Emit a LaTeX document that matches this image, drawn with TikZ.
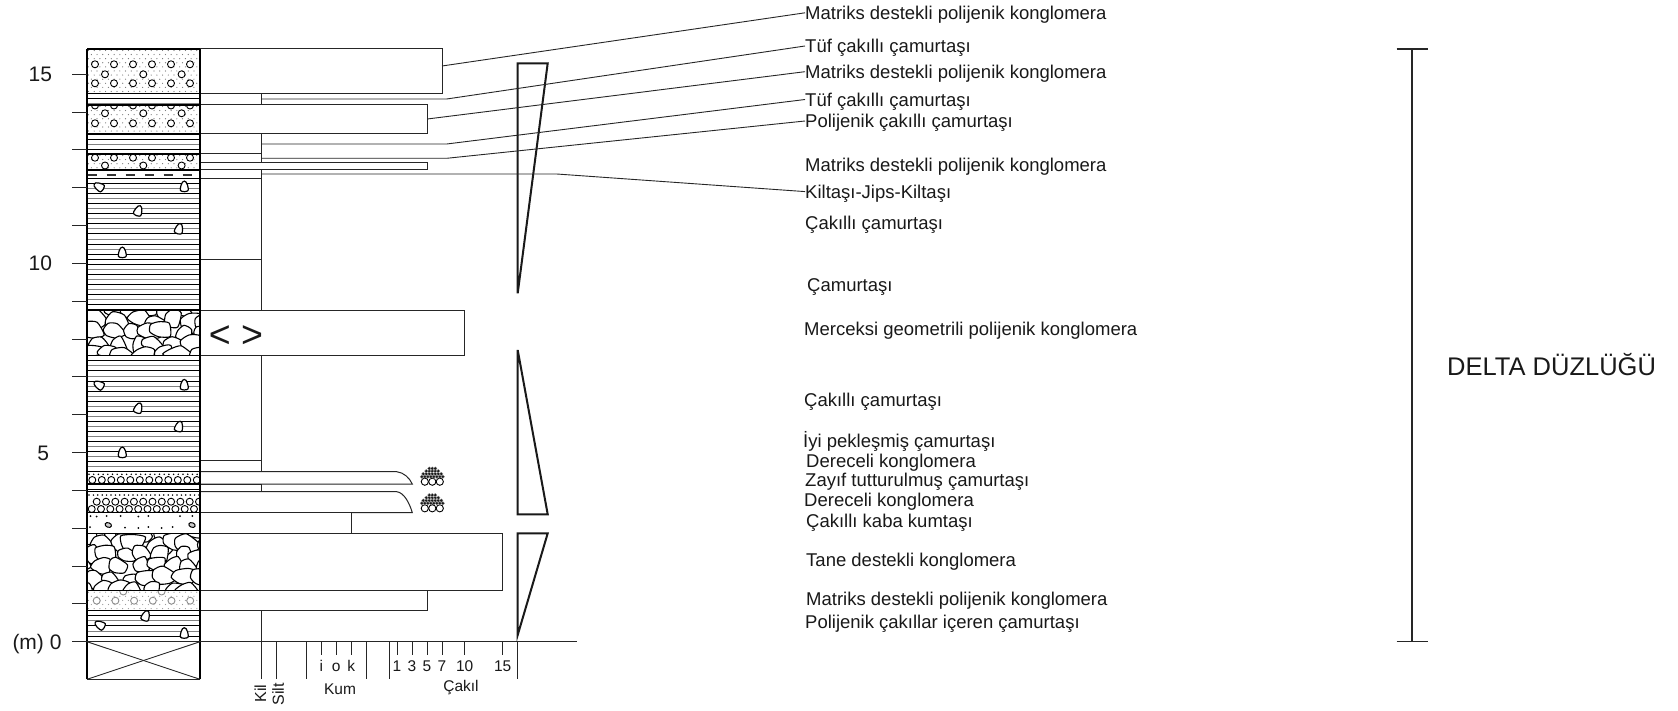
\documentclass[tikz,border=0pt]{standalone}
\usepackage{fontspec}
\setmainfont{Liberation Sans}

% --- column fill patterns (all coordinates in px, y downwards) ---
% horizontal laminae of a mudstone layer
\newcommand{\mudlines}[2]{%
  \begin{scope}
    \clip (87,#1) rectangle (200,#2);
    \foreach \k in {1,...,30}{
      \pgfmathsetmacro{\yy}{#1+\k*5.05}
      \ifodd\k \def\lc{black}\else\def\lc{black!50}\fi
      \draw[line width=0.75pt, color=\lc] (87,\yy) -- (200,\yy);
    }
  \end{scope}}
% fine matrix stipple
\newcommand{\mxdots}[3]{%
  \foreach \r in {0,...,12}{
    \foreach \c in {0,...,20}{
      \pgfmathsetmacro{\dx}{88.5+\c*5.7+mod(\r,2)*2.85}
      \pgfmathsetmacro{\dy}{#1+1.5+\r*4.1}
      \fill[#3] (\dx,\dy) circle[radius=0.6];
    }
  }}
% one row of open pebbles: y, first x, step, count, style
\newcommand{\crow}[5]{%
  \foreach \i in {1,...,#4}{
    \pgfmathsetmacro{\cx}{#2+(\i-1)*#3}
    \draw[#5] (\cx,#1) circle[radius=3.5];
  }}
% one row of small dots: y, first x, step
\newcommand{\drow}[3]{%
  \foreach \i in {0,...,30}{
    \pgfmathsetmacro{\cx}{#2+\i*#3}
    \fill[black] (\cx,#1) circle[radius=0.85];
  }}
% clast-supported cobbles: irregular rounded clasts packed in rows
\newcommand{\cobbles}[3]{%
  \begin{scope}
    \clip (87,#1) rectangle (200,#2);
    \pgfmathsetseed{#3}
    \foreach \r in {0,...,6}{
      \foreach \c in {-1,...,6}{
        \pgfmathsetmacro{\cx}{92+\c*18+mod(\r,2)*9+5*rand}
        \pgfmathsetmacro{\cy}{#1-1+\r*11.5+3.5*rand}
        \pgfmathsetmacro{\rx}{9+6*rnd}
        \pgfmathsetmacro{\ry}{7+4*rnd}
        \pgfmathsetmacro{\an}{70*rnd}
        \draw[cobble] plot[smooth cycle, tension=0.4, variable=\t, samples at={0,52,...,310}]
          ({\cx+\rx*(0.75+0.35*rnd)*cos(\t+\an)}, {\cy+\ry*(0.75+0.35*rnd)*sin(\t+\an)});
      }
    }
  \end{scope}}
% isolated pebble in mudstone
\newcommand{\pebble}[3]{%
  \draw[pbl, shift={(#1,#2)}, rotate=#3] plot[smooth cycle, tension=0.7]
    coordinates {(-1.8,-4.6) (1.8,-4.6) (4,2) (2.5,4.6) (-2.5,4.6) (-4,2)};}
% graded gravel symbol
\newcommand{\gravelsym}[2]{%
  \foreach \dx in {-7.5,0,7.5}{\draw[line width=0.9pt, fill=white] ({#1+\dx},#2) circle[radius=3.6];}
  \foreach \dx in {-10.5,-7.5,...,10.6}{\filldraw[gpile] ({#1+\dx},{#2-5}) circle[radius=1.75];}
  \foreach \dx in {-9,-6,...,9.1}{\filldraw[gpile] ({#1+\dx},{#2-7.8}) circle[radius=1.75];}
  \foreach \dx in {-6,-3,...,6.1}{\filldraw[gpile] ({#1+\dx},{#2-10.6}) circle[radius=1.75];}
  \foreach \dx in {-3,0,3}{\filldraw[gpile] ({#1+\dx},{#2-13.2}) circle[radius=1.75];}}

\begin{document}
\begin{tikzpicture}[x=1pt,y=-1pt,
  lbl/.style={anchor=west, inner sep=0pt, text height=13.3pt, text depth=0pt,
    font=\fontsize{18.5}{22}\selectfont, text=black!90},
  lead/.style={line width=0.9pt, black!85},
  bar/.style={draw=black!85, line width=1pt, fill=white},
  bound/.style={line width=1.3pt, black},
  tri/.style={line width=2pt, black!90, line join=miter},
  tick/.style={line width=0.9pt, black!85},
  scl/.style={inner sep=0pt, text height=11pt, text depth=0pt,
    font=\fontsize{15.5}{18}\selectfont, text=black!90},
  dep/.style={anchor=east, inner sep=0pt, text height=15pt, text depth=0pt,
    font=\fontsize{21}{25}\selectfont, text=black!90},
  cobble/.style={draw=black, line width=1.1pt, fill=white},
  pbl/.style={draw=black, line width=1.2pt, fill=white},
  cgl/.style={draw=black, line width=0.9pt, fill=white},
  cglg/.style={draw=black!45, line width=0.9pt, fill=white},
  gpile/.style={fill=black!90, draw=black!40, line width=0.25pt},
]
\useasboundingbox (0,0) rectangle (1678,711);
\fill[white] (0,0) rectangle (1678,711);

% ---------- grain-size bars ----------
\draw[bar] (200,49) rectangle (442,93.3);
\draw[bar] (200,93.3) rectangle (261,105);
\draw[bar] (200,105) rectangle (427.3,134);
\draw[bar] (200,134) rectangle (261,154);
\draw[bar] (200,154) rectangle (261,162.3);
\draw[bar] (200,162.3) rectangle (427.3,170);
\draw[bar] (200,170) rectangle (261,178.3);
\draw[bar] (200,178.3) rectangle (261,259.3);
\draw[bar] (200,259.3) rectangle (261,310);
\draw[bar] (200,310) rectangle (464.7,355.7);
\draw[bar] (200,355.7) rectangle (261,460);
\draw[bar] (200,460) rectangle (261,471.7);
\draw[bar] (200,471.7) -- (396.7,471.7) .. controls (404,472.5) and (409.5,478) .. (412.3,484) -- (200,484) -- cycle;
\draw[bar] (200,484) rectangle (261,491.7);
\draw[bar] (200,491.7) -- (396.7,491.7) .. controls (404,492.5) and (409.5,503) .. (412.3,512.7) -- (200,512.7) -- cycle;
\draw[bar] (200,512.7) rectangle (351.3,533.3);
\draw[bar] (200,533.3) rectangle (502.7,590.7);
\draw[bar] (200,590.7) rectangle (427.3,610.7);
\draw[bar] (200,610.7) rectangle (261,641.7);

\node[font=\fontsize{37.5}{40}\selectfont, inner sep=0pt, text=black!90] (lens) at (236,337) {< >};

\gravelsym{432.3}{481.7}
\gravelsym{432.3}{508.3}

% ---------- lithology column ----------
% matrix-supported conglomerates
\begin{scope}
  \clip (87,49) rectangle (200,93.3);
  \mxdots{49}{93.3}{black!55}
  \crow{64.3}{95}{19}{6}{cgl}
  \crow{74.3}{105}{38.3}{3}{cgl}
  \crow{83.3}{95}{19}{6}{cgl}
\end{scope}
\mudlines{93.3}{105}
\begin{scope}
  \clip (87,105) rectangle (200,134);
  \mxdots{105}{134}{black!55}
  \crow{105.5}{95}{19}{6}{cgl}
  \crow{113.3}{105}{38.3}{3}{cgl}
  \crow{123.3}{95}{19}{6}{cgl}
\end{scope}
\mudlines{134}{154}
\begin{scope}
  \clip (87,154) rectangle (200,170);
  \mxdots{154}{170}{black!55}
  \crow{157.7}{95}{19}{6}{cgl}
  \crow{165.5}{105}{38.3}{3}{cgl}
\end{scope}
% claystone - gypsum - claystone
\draw[line width=2.6pt, black!80, dash pattern=on 9pt off 10pt] (87.5,175) -- (200,175);
% pebbly mudstone and mudstone
\mudlines{178.3}{259.3}
\pebble{99}{186.7}{60}
\pebble{184.3}{186.7}{0}
\pebble{138.3}{211}{-20}
\pebble{179}{229}{-15}
\pebble{122.3}{252.7}{0}
\mudlines{259.3}{310}
% lens of polygenic conglomerate
\cobbles{310}{355.7}{17}
\mudlines{355.7}{471.7}
\pebble{99}{385}{60}
\pebble{184.3}{385}{0}
\pebble{138.3}{408.3}{-20}
\pebble{179}{426.7}{-15}
\pebble{122.3}{452.7}{0}
% graded conglomerates
\begin{scope}
  \clip (87,471.7) rectangle (200,484);
  \drow{474.3}{89}{4.7}
  \crow{480}{92.3}{9.5}{12}{cgl}
\end{scope}
\mudlines{484}{491.7}
\begin{scope}
  \clip (87,491.7) rectangle (200,512.7);
  \drow{495}{89}{4.4}
  \crow{501.7}{96.7}{9.3}{12}{cgl}
  \crow{509}{91.7}{9.3}{12}{cgl}
\end{scope}
% pebbly coarse sandstone
\foreach \px/\py in {90.5/516,96.7/516.5,106.7/516,120.7/516,138.3/516.5,148.3/516,180/516,192.3/516,
                     90/527,125/527.5,138.3/528,148.3/527,161.7/528,172.7/527}{
  \fill[black] (\px,\py) circle[radius=1];}
\draw[line width=1pt, fill=black!20, rotate around={-20:(108.3,525)}] (108.3,525) ellipse[x radius=3.3, y radius=2.3];
\draw[line width=1pt, fill=black!20, rotate around={-20:(192,525)}] (192,525) ellipse[x radius=3.3, y radius=2.3];
% clast-supported conglomerate
\cobbles{533.3}{590.7}{29}
% matrix-supported conglomerate
\begin{scope}
  \clip (87,590.7) rectangle (200,610.7);
  \mxdots{590.7}{610.7}{black!40}
  \crow{591.5}{123.3}{38.3}{2}{cglg}
  \crow{600.7}{96.7}{18.7}{6}{cglg}
\end{scope}
% basal pebbly mudstone
\mudlines{610.7}{641.7}
\pebble{145.7}{616}{-20}
\pebble{100}{625}{60}
\pebble{184.3}{633.3}{0}

% layer boundaries and column frame
\foreach \yb in {49,93.3,105,134,154,170,178.3,259.3,310,355.7,471.7,484,491.7,512.7,533.3,590.7,610.7,641.7}{
  \draw[bound] (87,\yb) -- (200,\yb);}
\draw[bound] (87,49) -- (87,679.3);
\draw[bound] (200,49) -- (200,679.3);
% basement
\draw[tick] (87,679.3) -- (200,679.3);
\draw[tick] (87,641.7) -- (200,679.3);
\draw[tick] (87,679.3) -- (200,641.7);

% ---------- depth scale ----------
\foreach \m in {0,...,15}{\draw[tick] (72,{641.7-37.83*\m}) -- (87,{641.7-37.83*\m});}
\node[dep] (d15) at (52.3,74.3) {15};
\node[dep] (d10) at (52.3,263.4) {10};
\node[dep] (d5) at (49.3,452.6) {5};
\node[dep] (d0) at (61.7,641.7) {(m) 0};

% ---------- grain-size scale ----------
\draw[tick] (72,641.7) -- (576.7,641.7);
\foreach \tx in {261,276,306,366.3,389.3,517.7}{\draw[tick] (\tx,641.7) -- (\tx,679);}
\foreach \tx in {321.3,336.3,351.3,397,412,427,442,464.7,502.7}{\draw[tick] (\tx,641.7) -- (\tx,655);}
\node[scl] (gi) at (321.3,666) {i};
\node[scl] (go) at (336.3,666) {o};
\node[scl] (gk) at (351.3,666) {k};
\node[scl] (g1) at (397,666) {1};
\node[scl] (g3) at (412,666) {3};
\node[scl] (g5) at (427,666) {5};
\node[scl] (g7) at (442,666) {7};
\node[scl] (g10) at (464.7,666) {10};
\node[scl] (g15) at (502.7,666) {15};
\node[scl] (kum) at (340,689) {Kum};
\node[scl] (cakil) at (461,685.7) {Çakıl};
\node[scl, rotate=90, anchor=east, font=\fontsize{16}{18}\selectfont] (kil) at (260.7,684.5) {Kil};
\node[scl, rotate=90, anchor=east, font=\fontsize{16}{18}\selectfont] (silt) at (278.3,683) {Silt};

% ---------- fining / coarsening trends ----------
\draw[tri] (517.7,63.3) -- (547.7,63.3) -- (517.7,293.3) -- cycle;
\draw[tri] (517.7,350) -- (547.7,514.3) -- (517.7,514.3) -- cycle;
\draw[tri] (517.7,533.3) -- (547.7,533.3) -- (517.7,635) -- cycle;

% ---------- descriptions ----------
\node[lbl] (m1) at (805,12.8) {Matriks destekli polijenik konglomera};
\node[lbl] (t1) at (805,46) {Tüf çakıllı çamurtaşı};
\node[lbl] (m2) at (805,71.7) {Matriks destekli polijenik konglomera};
\node[lbl] (t2) at (805,99.5) {Tüf çakıllı çamurtaşı};
\node[lbl] (p1) at (805,121) {Polijenik çakıllı çamurtaşı};
\node[lbl] (m3) at (805,164.8) {Matriks destekli polijenik konglomera};
\node[lbl] (k1) at (805,191.6) {Kiltaşı-Jips-Kiltaşı};
\node[lbl] (c1) at (805,222.6) {Çakıllı çamurtaşı};
\node[lbl] (c2) at (807,284.7) {Çamurtaşı};
\node[lbl] (g2) at (804,328.5) {Merceksi geometrili polijenik konglomera};
\node[lbl] (c3) at (804,400) {Çakıllı çamurtaşı};
\node[lbl] (i1) at (803,441) {İyi pekleşmiş çamurtaşı};
\node[lbl] (dk1) at (806,460.5) {Dereceli konglomera};
\node[lbl] (z1) at (805,480.3) {Zayıf tutturulmuş çamurtaşı};
\node[lbl] (dk2) at (804,499.7) {Dereceli konglomera};
\node[lbl] (c4) at (806,520.5) {Çakıllı kaba kumtaşı};
\node[lbl] (tn) at (806,560) {Tane destekli konglomera};
\node[lbl] (m4) at (806,599) {Matriks destekli polijenik konglomera};
\node[lbl] (p2) at (805,621.8) {Polijenik çakıllar içeren çamurtaşı};

% leader lines from the layers to their descriptions
\coordinate (s1) at (442,66);
\coordinate (s2) at (261,99);    \coordinate (h2) at (446.7,99);
\coordinate (s3) at (427.3,119);
\coordinate (s4) at (261,144);   \coordinate (h4) at (446.7,144);
\coordinate (s5) at (261,158.3); \coordinate (h5) at (446.7,158.3);
\coordinate (s7) at (261,174);   \coordinate (h7) at (556.7,174);
\draw[lead] (s1) -- (m1.west);
\draw[lead] (s2) -- (h2) -- (t1.west);
\draw[lead] (s3) -- (m2.west);
\draw[lead] (s4) -- (h4) -- (t2.west);
\draw[lead] (s5) -- (h5) -- (p1.west);
\draw[lead] (s7) -- (h7) -- (k1.west);

% ---------- depositional environment ----------
\draw[line width=1.5pt, black!85] (1396.6,49) -- (1427.7,49);
\draw[line width=1.5pt, black!85] (1412.2,49) -- (1412.2,641.7);
\draw[line width=1.5pt, black!85] (1396.6,641.7) -- (1427.7,641.7);
\node[anchor=west, inner sep=0pt, font=\fontsize{25.5}{28}\selectfont, text=black!90] (env) at (1447,365) {DELTA DÜZLÜĞÜ};
\end{tikzpicture}
\end{document}
